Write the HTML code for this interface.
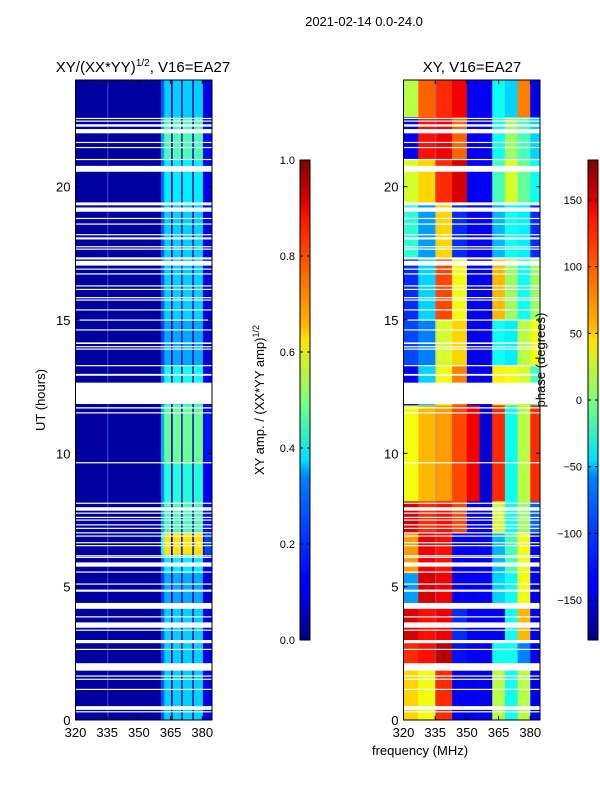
<!DOCTYPE html>
<html><head><meta charset="utf-8">
<style>
html,body{margin:0;padding:0;background:#fff;}
svg{display:block;font-family:"Liberation Sans","DejaVu Sans",sans-serif;}
</style></head>
<body>
<svg id="fig" width="600" height="800" viewBox="0 0 600 800">
  <defs>
    <linearGradient id="jetv" x1="0" y1="1" x2="0" y2="0">
      <stop offset="0" stop-color="#000080"/>
      <stop offset="0.11" stop-color="#0000ff"/>
      <stop offset="0.125" stop-color="#0000ff"/>
      <stop offset="0.34" stop-color="#0080ff"/>
      <stop offset="0.375" stop-color="#00e0ff"/>
      <stop offset="0.5" stop-color="#7dff7a"/>
      <stop offset="0.625" stop-color="#ffe600"/>
      <stop offset="0.66" stop-color="#ffb000"/>
      <stop offset="0.875" stop-color="#ff1800"/>
      <stop offset="0.91" stop-color="#e00000"/>
      <stop offset="1" stop-color="#800000"/>
    </linearGradient>
  </defs>
  <text x="364" y="26" font-size="13" text-anchor="middle">2021-02-14 0.0-24.0</text>
  <text x="143" y="72" font-size="15" text-anchor="middle">XY/(XX*YY)<tspan dy="-6" font-size="10">1/2</tspan><tspan dy="6">, V16=EA27</tspan></text>
  <text x="472" y="72" font-size="15" text-anchor="middle">XY, V16=EA27</text>
  <text x="45" y="400" font-size="13" text-anchor="middle" transform="rotate(-90 45 400)">UT (hours)</text>
  <text x="420" y="755" font-size="13" text-anchor="middle">frequency (MHz)</text>
  <g id="left"></g>
  <g id="right"></g>
  <g id="axes"></g>
  <rect x="300" y="160" width="10" height="480" fill="url(#jetv)" stroke="#000" stroke-width="1"/>
  <rect x="588" y="160" width="10" height="480" fill="url(#jetv)" stroke="#000" stroke-width="1"/>
  <g id="cb"></g>
  <text x="264" y="400" font-size="13" text-anchor="middle" transform="rotate(-90 264 400)">XY amp. / (XX*YY amp)<tspan dy="-5" font-size="9">1/2</tspan></text>
  <text x="545" y="360" font-size="13" text-anchor="middle" transform="rotate(-90 545 360)">phase (degrees)</text>
</svg>
<script>
// ---- data ----
const ampChanEdges = [320,335,335.7,360.5,362,365.2,366,370,370.7,375.3,376,380.3,381,384.6];
const ampChanBand  = [0,0.08,0,0.6,1,0.1,1,0.1,1,0.1,1,0.1,0.25];
const ampSegStart  = [22.6,21.0,19.4,17.3,15.0,13.3,11.8,9.6,8.2,7.0,6.2,5.5,4.2,2.9,0];
const ampSegEnd    = [24,22.6,21.0,19.4,17.3,15.0,13.3,11.8,9.6,8.2,7.0,6.2,5.5,4.2,2.9];
const ampSegLevel  = [0.3,0.42,0.33,0.3,0.3,0.26,0.36,0.45,0.38,0.42,0.62,0.33,0.26,0.3,0.3];
const phaseGroupEdges = [320,327,335,343,350,356,362,368,374,380,384.6];
const phaseSegStart = [22.6,21.0,19.4,17.3,15.0,13.3,11.8,8.2,7.0,5.5,4.2,2.9,2.1,0];
const phaseSegEnd   = [24,22.6,21.0,19.4,17.3,15.0,13.3,11.8,8.2,7.0,5.5,4.2,2.9,2.1];
const phaseRows = [
 [20,100,120,140,-140,-140,-40,-60,90,-140],
 [-140,130,140,100,-140,-140,-40,10,-20,-60],
 [30,60,120,150,-140,-140,-20,30,-10,-40],
 [-30,-80,60,-120,-140,-140,-70,-40,-50,-120],
 [-120,-60,110,40,-140,-140,70,10,-40,10],
 [-110,-90,30,60,-140,-140,-40,-50,20,40],
 [-140,-60,40,90,-140,-140,50,40,30,-20],
 [40,70,80,110,140,-150,120,-40,20,120],
 [150,120,130,110,-140,-140,30,-40,10,-100],
 [80,140,130,-140,-140,-140,-70,-20,40,-140],
 [-80,150,140,-140,-140,-140,-60,-40,40,-140],
 [150,130,140,-120,-140,-140,-140,-40,70,-140],
 [120,130,160,-130,-140,-140,-40,-40,-90,-140],
 [60,40,120,-140,-140,-140,20,-40,20,-140]
];
const gapStart = [22.54,22.44,22.25,22.0,21.64,21.45,21.0,20.56,19.3,19.06,18.79,18.58,18.18,18.02,17.73,17.64,17.27,17.04,16.89,16.71,16.26,16.13,15.82,15.73,15.36,14.98,14.61,14.1,13.98,13.89,13.27,12.91,11.85,11.68,11.5,9.63,8.11,7.85,7.74,7.58,7.48,7.3,7.17,7.0,6.88,6.63,6.52,6.14,6.08,5.75,5.53,5.08,4.81,4.17,3.85,3.46,3.35,2.88,2.63,1.85,1.63,1.51,1.13,0.38,0.29];
const gapEnd   = [22.58,22.48,22.34,22.16,21.68,21.49,21.04,20.78,19.41,19.22,18.83,18.62,18.22,18.1,17.77,17.68,17.35,17.22,16.93,16.75,16.3,16.17,15.86,15.77,15.4,15.02,14.65,14.16,14.02,13.93,13.31,12.98,12.65,11.73,11.54,9.67,8.15,7.98,7.78,7.62,7.52,7.34,7.21,7.04,6.92,6.67,6.56,6.18,6.12,5.91,5.57,5.12,4.89,4.39,3.89,3.66,3.39,3.0,2.67,2.13,1.67,1.55,1.17,0.52,0.33];
const hourTicks = [0,5,10,15,20];
const freqTicks = [320,335,350,365,380];
const ampTicks = [0.0,0.2,0.4,0.6,0.8,1.0];
const phaseTicks = [-150,-100,-50,0,50,100,150];

// ---- helpers ----
const NS='http://www.w3.org/2000/svg';
const Y0=80, Y1=720, W=136.5;
const LX=75.5, RX=403.5;
const F0=320, F1=384.6;
function yS(h){return Y1-(h/24)*(Y1-Y0);}
function xS(x0,f){return x0+(f-F0)/(F1-F0)*W;}
function jet(v){v=Math.max(0,Math.min(1,v));
  const c=t=>Math.round(255*Math.max(0,Math.min(1,1.5-Math.abs(t))));
  return 'rgb('+c(4*v-3)+','+c(4*v-2)+','+c(4*v-1)+')';}
function mk(tag,attrs,parent){const e=document.createElementNS(NS,tag);for(const k in attrs)e.setAttribute(k,attrs[k]);parent.appendChild(e);return e;}
const L=document.getElementById('left'), R=document.getElementById('right'), AX=document.getElementById('axes'), CB=document.getElementById('cb');

// amplitude heatmap
for(let s=0;s<ampSegStart.length;s++){
  for(let c=0;c<ampChanBand.length;c++){
    const v=0.03+ampChanBand[c]*ampSegLevel[s];
    const x=xS(LX,ampChanEdges[c]), x2=xS(LX,ampChanEdges[c+1]);
    const r=mk('rect',{x:x,y:yS(ampSegEnd[s]),width:x2-x+0.3,height:yS(ampSegStart[s])-yS(ampSegEnd[s])+0.3,fill:jet(v)},L);
    
    
  }
}
// phase heatmap
for(let s=0;s<phaseSegStart.length;s++){
  for(let c=0;c<phaseRows[s].length;c++){
    const v=(phaseRows[s][c]+180)/360;
    const x=xS(RX,phaseGroupEdges[c]), x2=xS(RX,phaseGroupEdges[c+1]);
    const r=mk('rect',{x:x,y:yS(phaseSegEnd[s]),width:x2-x+0.3,height:yS(phaseSegStart[s])-yS(phaseSegEnd[s])+0.3,fill:jet(v)},R);
    
    
  }
}
// faint line at 335 MHz and gaps
[[LX,L],[RX,R]].forEach(([x0,g])=>{
  const ln=mk('line',{x1:xS(x0,335.3),x2:xS(x0,335.3),y1:Y0,y2:Y1,stroke:'#6aa0ff','stroke-width':0.8,'stroke-opacity':0.6},g);
  
  
  for(let i=0;i<gapStart.length;i++){
    const r=mk('rect',{x:x0,y:yS(gapEnd[i]),width:W,height:Math.max(1.2,yS(gapStart[i])-yS(gapEnd[i])),fill:'#fff'},g);
    
    
  }
});
// axes frames and ticks
[[LX,'left'],[RX,'right']].forEach(([x0,nm])=>{
  const f=mk('rect',{x:x0,y:Y0,width:W,height:Y1-Y0,fill:'none',stroke:'#000','stroke-width':1},AX);
  
  
  hourTicks.forEach(h=>{
    const y=yS(h);
    mk('line',{x1:x0,x2:x0+4,y1:y,y2:y,stroke:'#000'},AX);
    mk('line',{x1:x0+W-4,x2:x0+W,y1:y,y2:y,stroke:'#000'},AX);
    const t=mk('text',{x:x0-5,y:y+5,'font-size':13,'text-anchor':'end'},AX);
    t.textContent=h;
    
    
  });
  freqTicks.forEach(fq=>{
    const x=xS(x0,fq);
    mk('line',{x1:x,x2:x,y1:Y1,y2:Y1-4,stroke:'#000'},AX);
    mk('line',{x1:x,x2:x,y1:Y0,y2:Y0+4,stroke:'#000'},AX);
    const t=mk('text',{x:x,y:Y1+17,'font-size':13,'text-anchor':'middle'},AX);
    t.textContent=fq;
    
    
  });
});
// colorbar ticks
ampTicks.forEach(v=>{
  const y=640-v*480;
  mk('line',{x1:300,x2:303,y1:y,y2:y,stroke:'#000'},CB);
  mk('line',{x1:307,x2:310,y1:y,y2:y,stroke:'#000'},CB);
  const t=mk('text',{x:295,y:y+4,'font-size':11,'text-anchor':'end'},CB);
  t.textContent=v.toFixed(1);
  
  
});
phaseTicks.forEach(v=>{
  const y=400-v*480/360;
  mk('line',{x1:588,x2:591,y1:y,y2:y,stroke:'#000'},CB);
  mk('line',{x1:595,x2:598,y1:y,y2:y,stroke:'#000'},CB);
  const t=mk('text',{x:582,y:y+4,'font-size':11,'text-anchor':'end'},CB);
  t.textContent=v<0?'\u2212'+Math.abs(v):v;
  
  
});
</script>
</body></html>
